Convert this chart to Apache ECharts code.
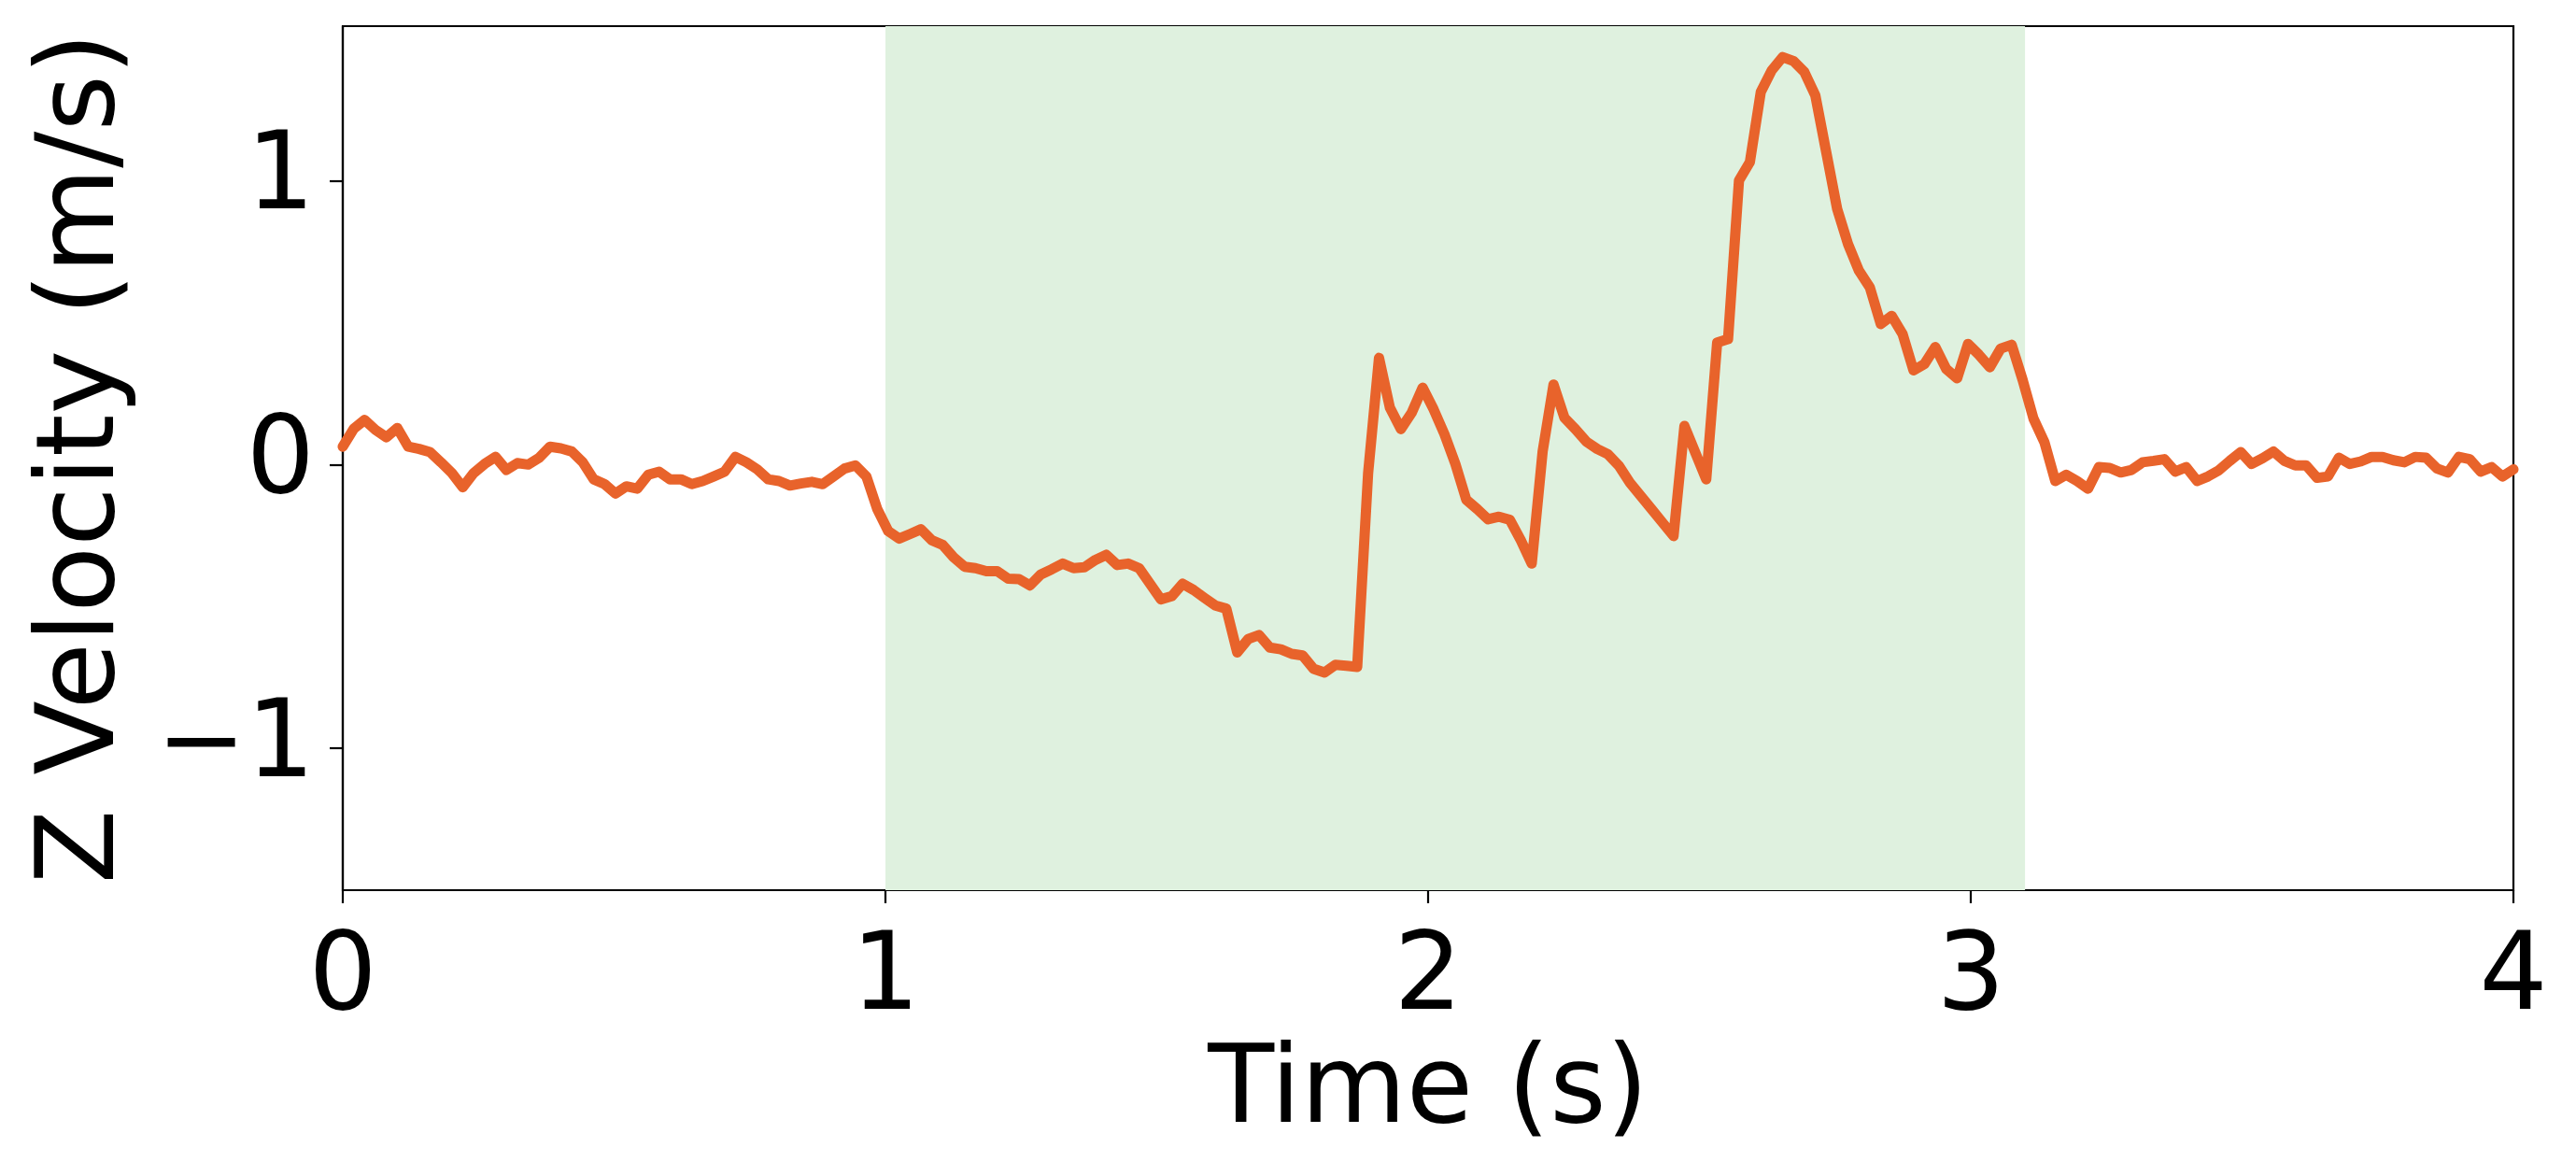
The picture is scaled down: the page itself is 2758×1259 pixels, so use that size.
<!DOCTYPE html>
<html><head><meta charset="utf-8">
<script src="https://cdn.jsdelivr.net/npm/echarts@6/dist/echarts.min.js"></script>
<style>html,body{margin:0;padding:0;background:#fff}#c{width:2758px;height:1259px}</style>
</head><body><div id="c"></div>
<script>
// Z velocity samples (m/s), 200 samples spanning 0..4 s
const zVelocity = [
  0.063, 0.126, 0.157, 0.122, 0.096, 0.129, 0.063, 0.055, 0.044, 0.008, -0.030, -0.080, -0.030, 0.002, 0.027, -0.019, 0.005, 0.000, 0.024, 0.063, 0.057, 0.046, 0.008, -0.052, -0.069, -0.102, -0.077, -0.085, -0.036,
  -0.025, -0.052, -0.052, -0.069, -0.058, -0.042, -0.025, 0.027, 0.008, -0.017, -0.052, -0.058, -0.074, -0.067, -0.061, -0.069, -0.042, -0.014, -0.003, -0.042, -0.157, -0.234, -0.261, -0.245, -0.228, -0.267, -0.283, -0.327,
  -0.360, -0.365, -0.376, -0.376, -0.402, -0.404, -0.426, -0.387, -0.369, -0.349, -0.365, -0.362, -0.336, -0.318, -0.354, -0.349, -0.365, -0.420, -0.475, -0.464, -0.420, -0.442, -0.470, -0.497, -0.508, -0.662, -0.615, -0.601,
  -0.645, -0.651, -0.667, -0.673, -0.720, -0.733, -0.706, -0.709, -0.713, -0.031, 0.376, 0.200, 0.125, 0.183, 0.271, 0.195, 0.107, 0.002, -0.124, -0.157, -0.193, -0.184, -0.195, -0.267, -0.349, 0.046, 0.282, 0.165, 0.125, 0.081, 0.055,
  0.036, -0.005, -0.064, -0.111, -0.158, -0.205, -0.252, 0.136, 0.042, -0.052, 0.430, 0.442, 1.001, 1.066, 1.313, 1.389, 1.436, 1.422, 1.383, 1.301, 1.101, 0.901, 0.777, 0.683, 0.624, 0.495, 0.524, 0.460,
  0.332, 0.354, 0.414, 0.337, 0.304, 0.425, 0.387, 0.343, 0.409, 0.422, 0.299, 0.162, 0.079, -0.058, -0.036, -0.058, -0.085, -0.009, -0.012, -0.028, -0.019, 0.008, 0.013, 0.019, -0.025, -0.009, -0.058, -0.042, -0.020,
  0.013, 0.044, 0.002, 0.022, 0.046, 0.013, -0.003, -0.003, -0.047, -0.042, 0.024, 0.002, 0.011, 0.027, 0.027, 0.015, 0.008, 0.027, 0.024, -0.014, -0.028, 0.027, 0.019, -0.025, -0.009, -0.042, -0.017
];
const timeStart = 0;
const timeEnd = 4;
const shadedRegion = [1.0, 3.1];
const xTickValues = [0, 1, 2, 3, 4];
const yTickValues = [-1, 0, 1];
const xAxisTitle = 'Time (s)';
const yAxisTitle = 'Z Velocity (m/s)';

const n = zVelocity.length;
const seriesData = zVelocity.map((v, i) => [timeStart + (timeEnd - timeStart) * i / (n - 1), v]);

const FONT = 'DejaVu Sans';
const chart = echarts.init(document.getElementById('c'), null, {renderer: 'canvas'});
chart.setOption({
  animation: false,
  backgroundColor: '#ffffff',
  grid: {left: 367, right: 67, top: 28, bottom: 306, show: true, borderColor: '#000', borderWidth: 2.2, backgroundColor: 'transparent'},
  xAxis: {
    type: 'value', min: timeStart, max: timeEnd, interval: 1,
    name: xAxisTitle, nameLocation: 'middle', nameGap: 158,
    nameTextStyle: {fontFamily: FONT, fontSize: 116, color: '#000'},
    axisLine: {show: true, onZero: false, lineStyle: {color: '#000', width: 2.2}},
    axisTick: {show: true, length: 14, lineStyle: {color: '#000', width: 2.2}, customValues: xTickValues},
    axisLabel: {fontFamily: FONT, fontSize: 115, color: '#000', margin: 40, customValues: xTickValues},
    splitLine: {show: false}
  },
  yAxis: {
    type: 'value', min: -1.5, max: 1.545,
    name: yAxisTitle, nameLocation: 'middle', nameGap: 218, nameRotate: 90,
    nameTextStyle: {fontFamily: FONT, fontSize: 116, color: '#000'},
    axisLine: {show: true, onZero: false, lineStyle: {color: '#000', width: 2.2}},
    axisTick: {show: true, length: 14, lineStyle: {color: '#000', width: 2.2}, customValues: yTickValues},
    axisLabel: {fontFamily: FONT, fontSize: 115, color: '#000', margin: 30, customValues: yTickValues,
      formatter: v => (v < 0 ? '\u2212' + Math.abs(v) : String(v))},
    splitLine: {show: false}
  },
  series: [
    {
      type: 'line', data: [], z: 1, silent: true,
      markArea: {silent: true, itemStyle: {color: '#dff1df'},
        data: [[{xAxis: shadedRegion[0]}, {xAxis: shadedRegion[1]}]]}
    },
    {
      type: 'line', data: seriesData, z: 3, showSymbol: false, symbol: 'none', clip: true,
      lineStyle: {color: '#e8632b', width: 11, join: 'round', cap: 'round'}
    }
  ]
});
</script></body></html>
